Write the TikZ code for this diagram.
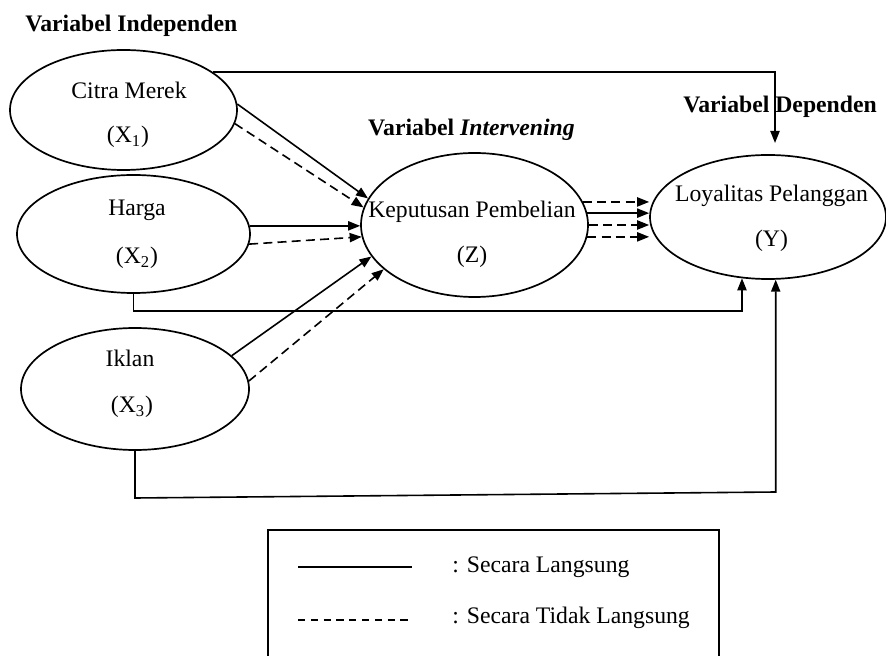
\documentclass[tikz,border=0pt]{standalone}
\usepackage{fontspec}
\setmainfont{Liberation Serif}
\usetikzlibrary{shapes.geometric,arrows.meta,calc}
\begin{document}
\begin{tikzpicture}[x=0.5pt,y=-0.5pt,
  font=\fontsize{11.85}{14}\selectfont,
  ell/.style={ellipse, draw, line width=0.85pt, inner sep=0pt},
  lbl/.style={anchor=base, inner sep=0pt},
  ttl/.style={anchor=base, inner sep=0pt, font=\fontsize{11.85}{14}\selectfont\bfseries},
  arr/.style={line width=0.8pt, -{Triangle[length=6pt,width=4.6pt]}},
  dsh/.style={dash pattern=on 4.5pt off 2.6pt},
  ldsh/.style={dash pattern=on 3.6pt off 2.8pt}]
\useasboundingbox (0,0) rectangle (886,656);
% ellipses
\node[ell, minimum width=113.5pt, minimum height=60pt] (c) at (123.5,110) {};
\node[ell, minimum width=116.5pt, minimum height=59pt] (h) at (133.5,234) {};
\node[ell, minimum width=114pt, minimum height=61pt] (i) at (135,389) {};
\node[ell, minimum width=113.5pt, minimum height=72pt] (z) at (474.5,225) {};
\node[ell, minimum width=118pt, minimum height=62pt] (y) at (768,217) {};
% labels
\node[lbl] (ct) at (129,99) {Citra Merek};
\node[lbl] (cx) at (128,143) {(X\textsubscript{1})};
\node[lbl] (ht) at (137,216) {Harga};
\node[lbl] (hx) at (137,264) {(X\textsubscript{2})};
\node[lbl] (it) at (130,367) {Iklan};
\node[lbl] (ix) at (132,413) {(X\textsubscript{3})};
\node[lbl] (zt) at (472,218) {Keputusan Pembelian};
\node[lbl] (zx) at (472,263) {(Z)};
\node[lbl] (yt) at (771.5,202) {Loyalitas Pelanggan};
\node[lbl] (yx) at (771.5,247) {(Y)};
% titles
\node[ttl, anchor=base west] (t1) at (25,32) {Variabel Independen};
\node[ttl] (t2) at (471.5,136) {Variabel \textit{Intervening}};
\node[ttl, anchor=base west] (t3) at (683,113) {Variabel Dependen};
% arrows to Z
\draw[arr] (c.3.5) -- (z.166.8);
\draw[arr,dsh] (c.-7.8) -- (z.171.2);
\draw[arr] (h.4.9) -- (h.4.9 -| z.west);
\draw[arr,dsh] (h.-5.4) -- (z.186.6);
\draw[arr] (i.19.3) -- (z.197.5);
\draw[arr,dsh] (i.4.6) -- (z.206.9);
% Z to Y
\draw[arr,dsh] (z.12.6) -- (z.12.6 -| y.west);
\draw[arr] (z.6.1) -- (z.6.1 -| y.west);
\draw[arr,dsh] (z.0.5) -- (z.0.5 -| y.west);
\draw[arr,dsh] (z.-6.1) -- (z.-6.1 -| y.west);
% direct routes to Y
\coordinate (ytop) at (775,143);
\draw[arr] (c.23) -| (ytop);
\path (0,311) coordinate (hlev) (0,498) coordinate (ilev1) (0,492) coordinate (ilev2);
\draw[arr] (h.south) -- (h.south |- hlev) -- (y.247.6 |- hlev) -- (y.247.6);
\draw[arr] (i.south) -- (i.south |- ilev1) -- (y.277.4 |- ilev2) -- (y.277.4);
% legend
\draw[line width=0.85pt] (268,670) -- (268,530) -- (719,530) -- (719,670);
\coordinate (l1a) at (298,567);
\coordinate (l1b) at (412,567);
\coordinate (l2a) at (298,620);
\coordinate (l2b) at (412,620);
\draw[line width=0.8pt] (l1a) -- (l1b);
\draw[line width=0.8pt, ldsh] (l2a) -- (l2b);
\node[lbl, anchor=base west] (lg1) at (452,572) {: Secara Langsung};
\node[lbl, anchor=base west] (lg2) at (452,623) {: Secara Tidak Langsung};
\end{tikzpicture}
\end{document}
